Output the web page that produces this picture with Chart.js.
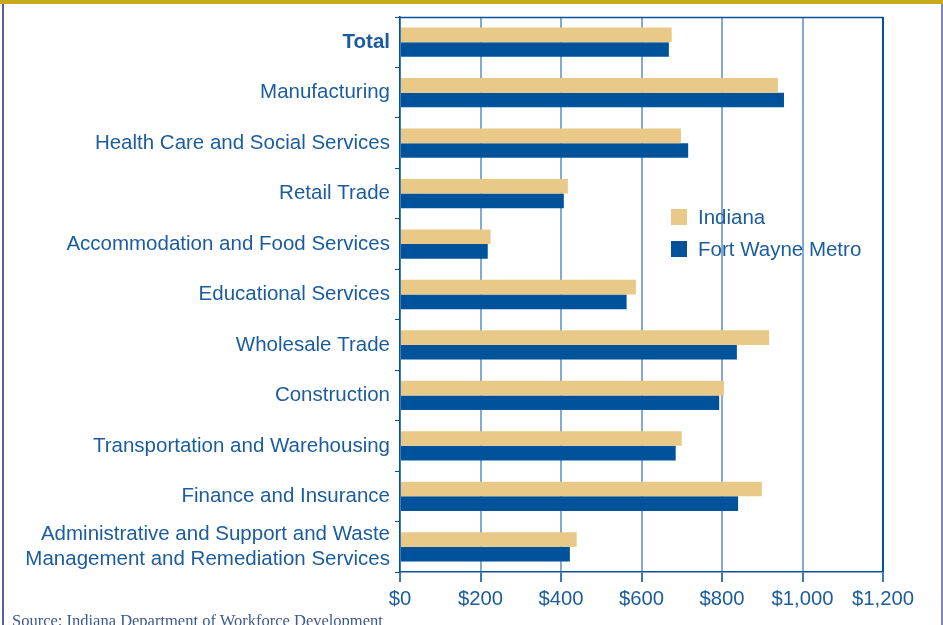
<!DOCTYPE html>
<html>
<head>
<meta charset="utf-8">
<script src="https://cdn.jsdelivr.net/npm/chart.js@4"></script>
<style>
  html, body { margin:0; padding:0; background:#fff; }
  #wrap { position:relative; width:943px; height:625px; overflow:hidden; background:#fff; }
  #topbar { position:absolute; left:0; top:0; width:943px; height:4px; background:#C8A91E; }
  #lborder { position:absolute; left:2px; top:4px; width:2px; height:621px; background:#5460A6; }
  #rborder { position:absolute; left:941px; top:4px; width:2px; height:621px; background:#7F86BE; }
  #cv { position:absolute; left:0; top:0; }
  #legend { position:absolute; left:671px; top:205px; font-family:"Liberation Sans", Arial, sans-serif; font-size:20.5px; color:#1B5C9E; }
  .li { display:flex; align-items:center; height:24px; margin-bottom:8px; white-space:nowrap; }
  .sw { width:16px; height:16px; margin-right:11px; flex:none; }
  #source { position:absolute; left:12px; top:611px; font-family:"Liberation Serif", "Times New Roman", serif; font-size:16.5px; color:#3E5A8C; white-space:nowrap; }
</style>
</head>
<body>
<div id="wrap">
  <canvas id="cv" width="943" height="625"></canvas>
  <div id="topbar"></div>
  <div id="lborder"></div>
  <div id="rborder"></div>
  <div id="legend"></div>
  <div id="source">Source: Indiana Department of Workforce Development</div>
</div>
<script>
const categories = [
  "Total",
  "Manufacturing",
  "Health Care and Social Services",
  "Retail Trade",
  "Accommodation and Food Services",
  "Educational Services",
  "Wholesale Trade",
  "Construction",
  "Transportation and Warehousing",
  "Finance and Insurance",
  ["Administrative and Support and Waste", "Management and Remediation Services"]
];
const seriesNames = ["Indiana", "Fort Wayne Metro"];
const indianaValues = [675, 939, 698, 417, 225, 586, 917, 805, 700, 899, 439];
const fortWayneValues = [668, 954, 716, 407, 218, 563, 837, 793, 685, 840, 422];
const xTickValues = [0, 200, 400, 600, 800, 1000, 1200];
const seriesColors = ["#E9C988", "#00529B"];

const TEXT = "#1B5C9E";
const DARK = "#00529B";
const GRID = "#86A9CF";

const topBorder = {
  id: "topBorder",
  afterDraw(chart) {
    const a = chart.chartArea, c = chart.ctx;
    c.save();
    c.strokeStyle = DARK;
    c.lineWidth = 1.5;
    c.beginPath();
    c.moveTo(a.left, a.top + 0.5);
    c.lineTo(a.right, a.top + 0.5);
    c.stroke();
    c.restore();
  }
};

const chart = new Chart(document.getElementById("cv"), {
  type: "bar",
  data: {
    labels: categories,
    datasets: [
      { label: seriesNames[0], data: indianaValues, backgroundColor: seriesColors[0] },
      { label: seriesNames[1], data: fortWayneValues, backgroundColor: seriesColors[1] }
    ]
  },
  options: {
    indexAxis: "y",
    responsive: false,
    animation: false,
    devicePixelRatio: 1,
    barPercentage: 1,
    categoryPercentage: 0.58,
    layout: { padding: { top: 17, right: 60, left: 0, bottom: 0 } },
    plugins: { legend: { display: false }, tooltip: { enabled: false } },
    scales: {
      x: {
        min: 0, max: 1200,
        afterBuildTicks(scale) { scale.ticks = xTickValues.map(v => ({ value: v })); },
        afterFit(scale) { scale.height = 53; scale.paddingLeft = 0; scale.paddingRight = 0; },
        border: { display: true, color: DARK, width: 1.5 },
        grid: {
          color: ctx => (ctx.tick && ctx.tick.value === 1200) ? DARK : GRID,
          lineWidth: 2,
          tickColor: "#3C78B4",
          tickLength: 10,
          drawTicks: true
        },
        ticks: {
          color: TEXT,
          padding: 5,
          autoSkip: false,
          maxRotation: 0,
          font: { family: "'Liberation Sans', Arial, sans-serif", size: 20.3 },
          callback: v => "$" + Number(v).toLocaleString("en-US")
        }
      },
      y: {
        afterFit(scale) { scale.width = 400; scale.paddingTop = 0; scale.paddingBottom = 0; },
        border: { display: true, color: DARK, width: 1.5 },
        grid: {
          offset: true,
          drawOnChartArea: false,
          drawTicks: true,
          tickLength: 5,
          tickColor: DARK,
          color: DARK
        },
        ticks: {
          color: TEXT,
          padding: 5,
          autoSkip: false,
          font: ctx => ({
            family: "'Liberation Sans', Arial, sans-serif",
            size: 20.5,
            lineHeight: 1.25,
            weight: ctx.index === 0 ? "bold" : "normal"
          })
        }
      }
    }
  },
  plugins: [topBorder]
});

// HTML legend built from datasets
const lg = document.getElementById("legend");
chart.data.datasets.forEach(ds => {
  const row = document.createElement("div");
  row.className = "li";
  const sw = document.createElement("span");
  sw.className = "sw";
  sw.style.background = ds.backgroundColor;
  const t = document.createElement("span");
  t.textContent = ds.label;
  row.appendChild(sw); row.appendChild(t);
  lg.appendChild(row);
});
</script>
</body>
</html>
